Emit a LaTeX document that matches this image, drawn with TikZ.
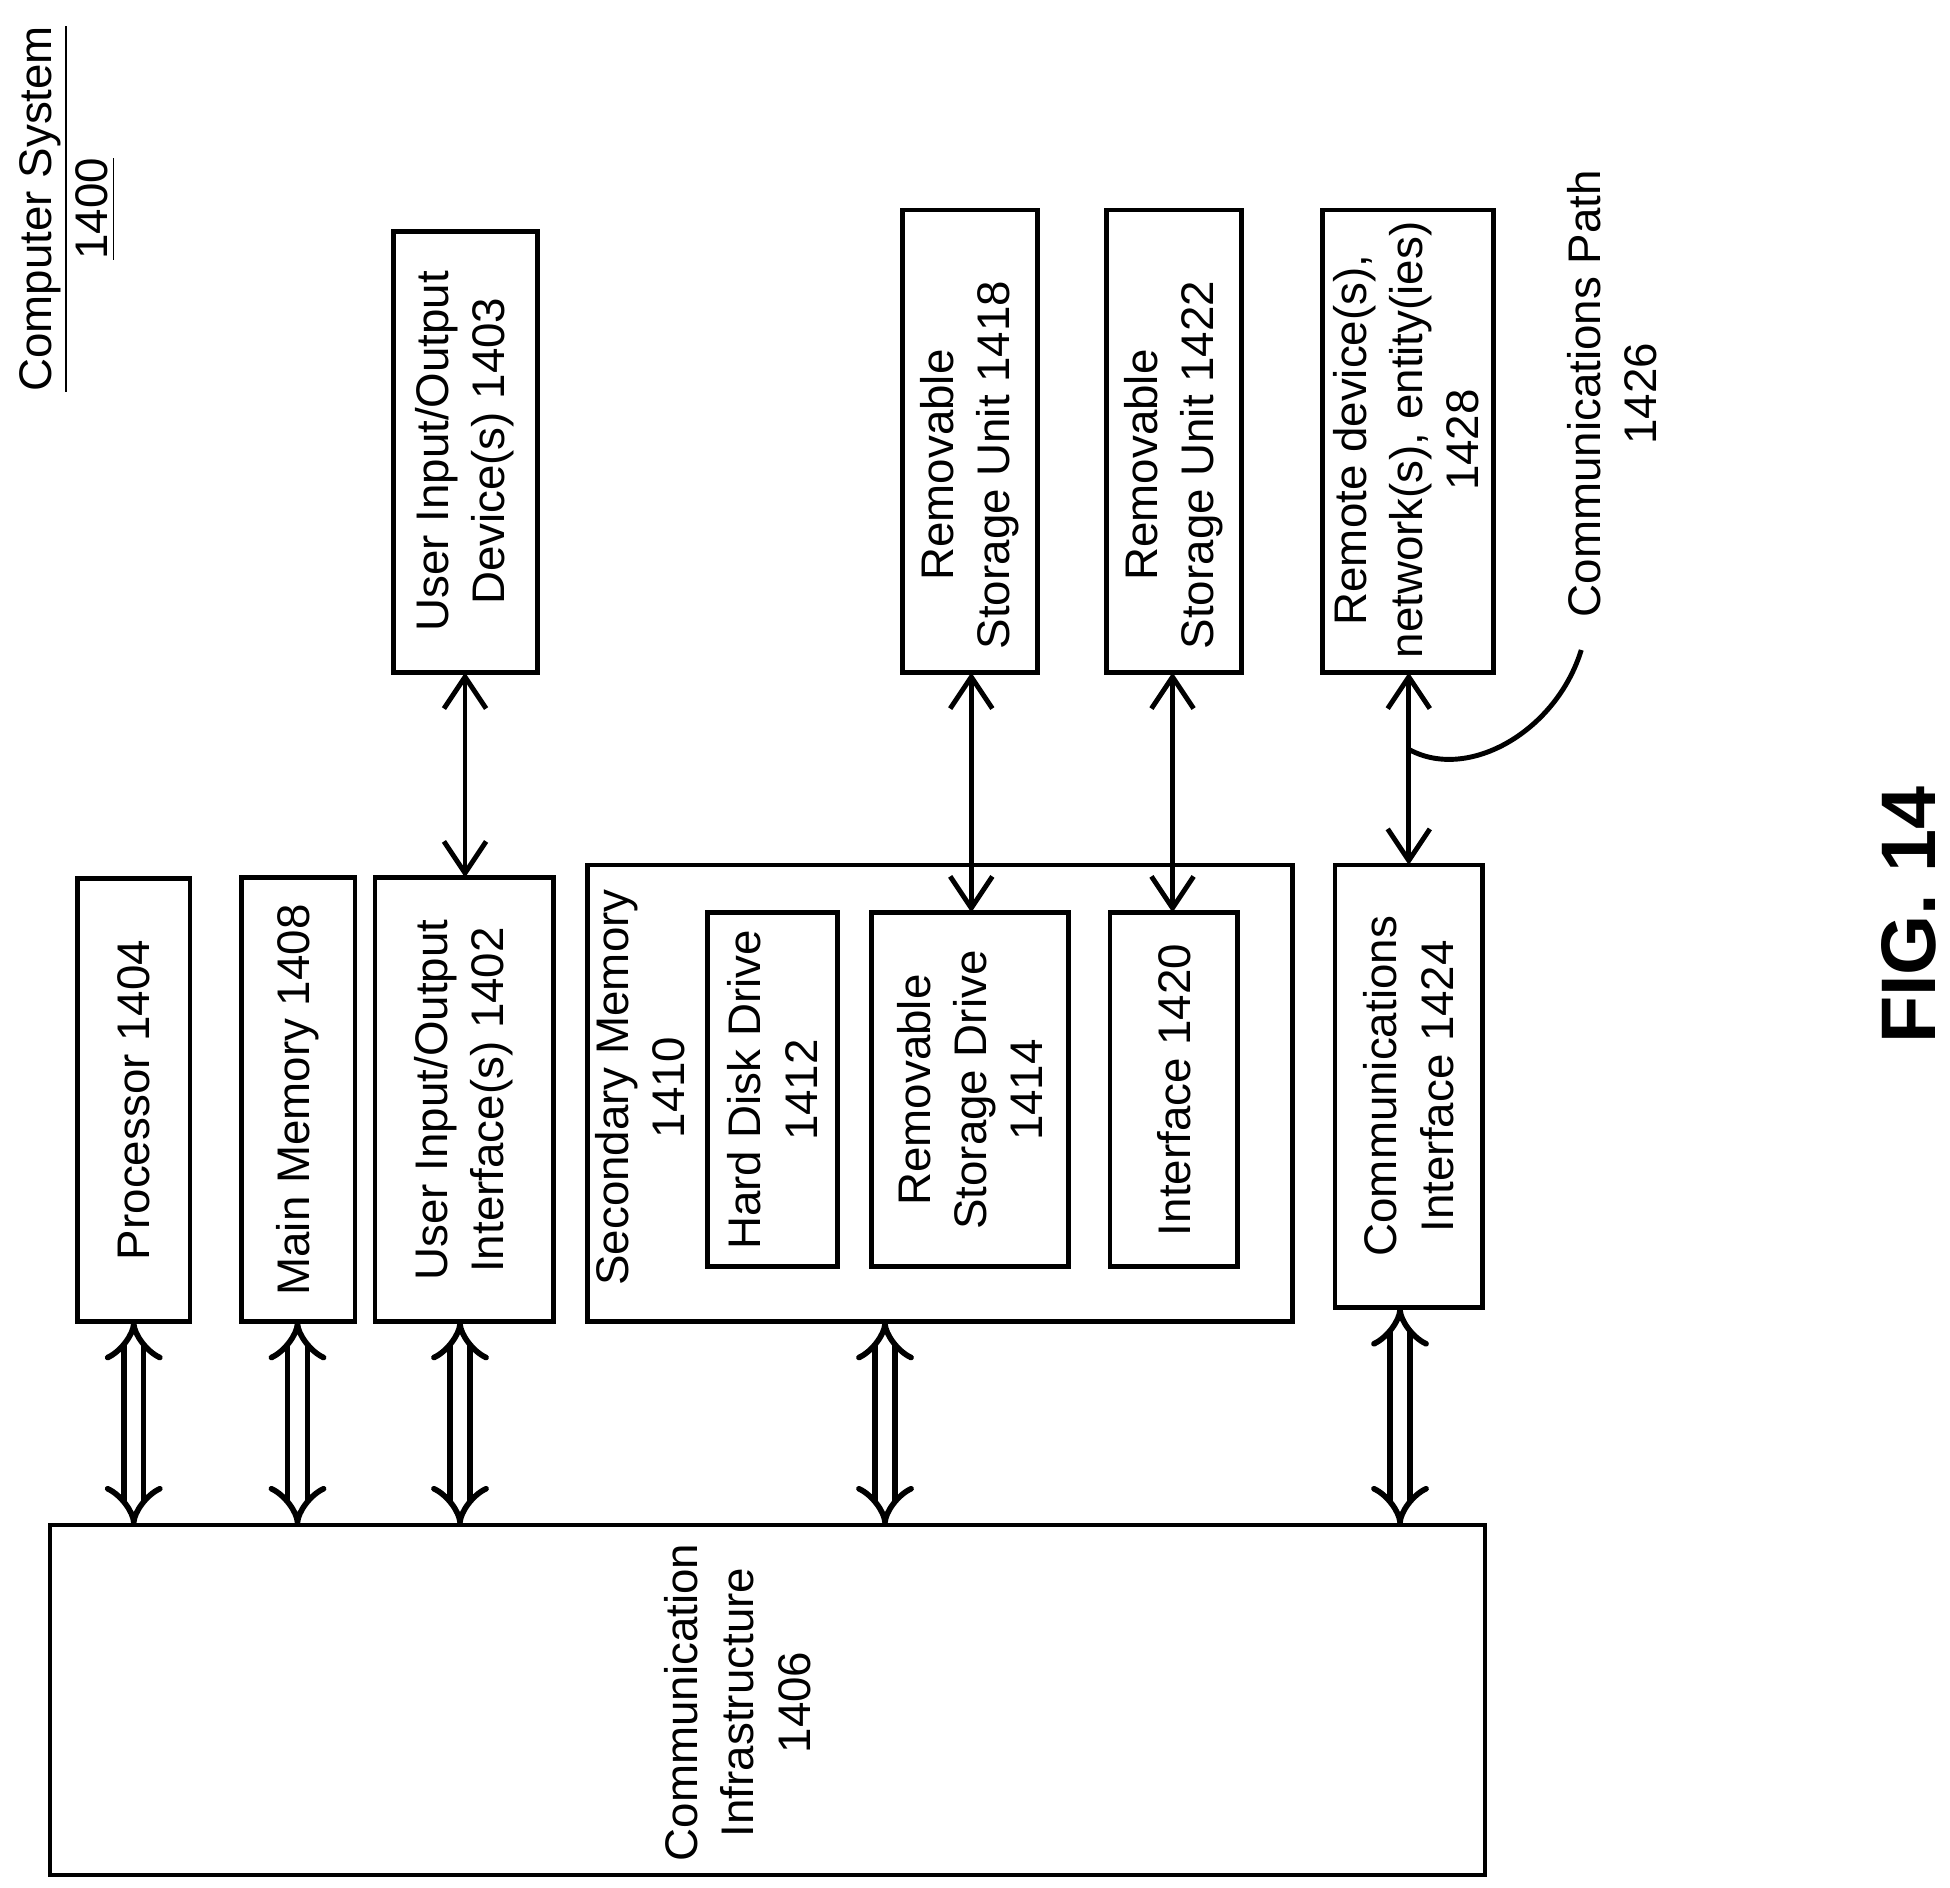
\documentclass[tikz,border=0pt]{standalone}
\usepackage{fontspec}
\setmainfont{Liberation Sans}
\usetikzlibrary{arrows.meta}
\begin{document}
\begin{tikzpicture}[x=0.0125cm,y=-0.0125cm,
  box/.style={draw,line width=1.4pt},
  txt/.style={rotate=90,align=center,font=\fontsize{13}{16}\selectfont,inner sep=0pt},
  bus/.style={draw,line width=1.6pt,double,double distance=4pt,{Implies[length=3pt,width=13pt]}-{Implies[length=3pt,width=13pt]}},
  arr/.style={draw,line width=1.4pt,{Straight Barb[length=9pt,width=12pt]}-{Straight Barb[length=9pt,width=12pt]}}]
\useasboundingbox (0,0) rectangle (1560,1510.4);
% boxes
\draw[box] (62,703) rectangle (152,1057); \node[txt] (proc) at (107,880) {Processor 1404};
\draw[box] (193,702) rectangle (284,1057); \node[txt] (mm) at (238,880) {Main Memory 1408};
\draw[box] (300,702) rectangle (443,1057); \node[txt] (uioi) at (371,880) {User Input/Output\\Interface(s) 1402};
\draw[box] (470,692) rectangle (1034,1057); \node[txt] (sm) at (512,870) {Secondary Memory\\1410};
\draw[box] (566,730) rectangle (670,1013); \node[txt] (hdd) at (618,872) {Hard Disk Drive\\1412};
\draw[box] (697,730) rectangle (855,1013); \node[txt] (rsd) at (776,872) {Removable\\Storage Drive\\1414};
\draw[box] (888,730) rectangle (990,1013); \node[txt] (if) at (939,872) {Interface 1420};
\draw[box] (1068,692) rectangle (1186,1046); \node[txt] (ci) at (1127,869) {Communications\\Interface 1424};
\draw[box] (315,185) rectangle (430,538); \node[txt] (uiod) at (372,361) {User Input/Output\\Device(s) 1403};
\draw[box] (722,168) rectangle (830,538); \node[txt] (rsu1) at (776,372) {Removable\\Storage Unit 1418};
\draw[box] (885,168) rectangle (993,538); \node[txt] (rsu2) at (939,372) {Removable\\Storage Unit 1422};
\draw[box] (1058,168) rectangle (1195,538); \node[txt] (rem) at (1125,352) {Remote device(s),\\network(s), entity(ies)\\1428};
\draw[box] (40,1220) rectangle (1188,1500); \node[txt] (inf) at (590,1362) {Communication\\Infrastructure\\1406};
% title
\node[txt] (title) at (54,167) {\underline{Computer System}\\\underline{1400}};
\node[txt,font=\fontsize{22}{26}\selectfont\bfseries] (fig) at (1527,732) {FIG. 14};
\node[txt] (cp) at (1290,315) {Communications Path\\1426};
% buses
\foreach \x/\y in {107/1057,238/1057,368/1057,708/1057,1120/1046}
  \draw[bus] (\x,\y) -- (\x,1220);
% arrows
\draw[arr] (372,538) -- (372,702);
\draw[arr] (777,538) -- (777,730);
\draw[arr] (938,538) -- (938,730);
\draw[arr] (1127,538) -- (1127,692);
\coordinate (cs) at (1128,600);
\coordinate (ce) at (1265,520);
\draw[line width=1.4pt] (cs) .. controls (1175,625) and (1245,585) .. (ce);
\end{tikzpicture}
\end{document}
